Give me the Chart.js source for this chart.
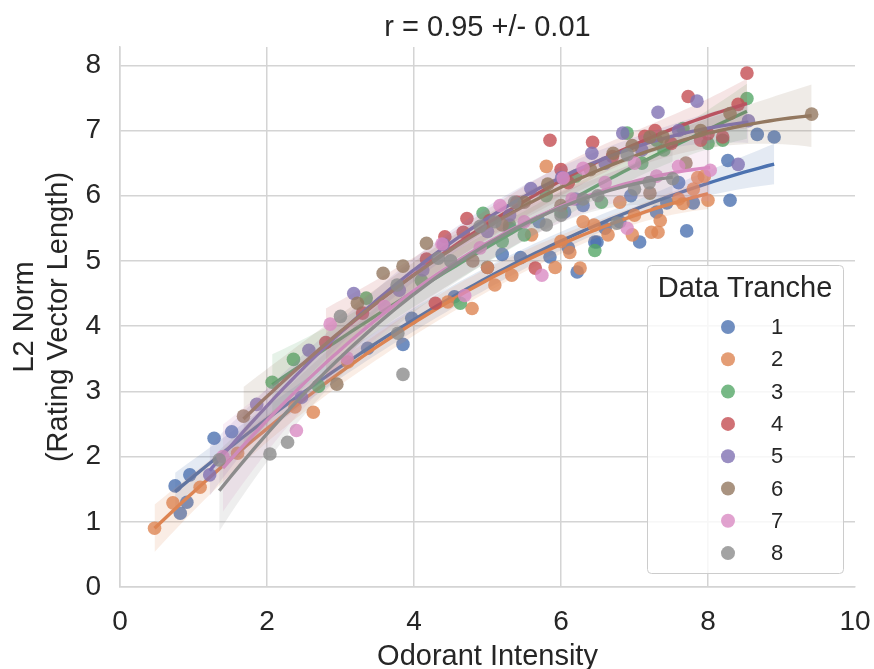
<!DOCTYPE html>
<html>
<head>
<meta charset="utf-8">
<script src="https://cdn.jsdelivr.net/npm/chart.js@4.4.1/dist/chart.umd.min.js"></script>
<style>
  html, body { margin: 0; padding: 0; background: #fff; }
  #wrap { width: 874px; height: 669px; }
</style>
</head>
<body>
<div id="wrap"><canvas id="chart" width="874" height="669"></canvas></div>
<script>
// Tranche names, colours and tick labels
const trancheNames = ['1', '2', '3', '4', '5', '6', '7', '8'];
const trancheColors = ['#4C72B0', '#DD8452', '#55A868', '#C44E52', '#8172B3', '#937860', '#DA8BC3', '#8C8C8C'];
const xTicks = [0, 2, 4, 6, 8, 10];
const yTicks = [0, 1, 2, 3, 4, 5, 6, 7, 8];
const chartTitle = 'r = 0.95 +/- 0.01';

// Points (odorant intensity, L2 norm)
const tranche1X = [0.75, 0.82, 0.91, 0.95, 1.28, 1.52, 3.37, 3.85, 3.97, 4.55, 5.0, 5.2, 5.3, 5.45, 5.7, 5.85, 6.05, 6.1, 6.22, 6.3, 6.46, 6.49, 6.6, 6.8, 6.95, 7.07, 7.3, 7.44, 7.6, 7.71, 7.8, 8.27, 8.3, 8.67, 8.9];
const tranche1Y = [1.55, 1.13, 1.30, 1.72, 2.28, 2.38, 3.66, 3.72, 4.12, 4.45, 4.90, 5.10, 5.50, 5.05, 5.60, 5.06, 5.75, 5.20, 4.83, 5.85, 5.29, 5.29, 5.50, 5.60, 6.00, 5.29, 5.75, 5.89, 6.20, 5.46, 5.89, 6.54, 5.93, 6.94, 6.90];
const tranche2X = [0.47, 0.72, 1.09, 1.6, 2.38, 2.63, 3.1, 4.46, 4.79, 5.0, 5.1, 5.33, 5.6, 5.8, 5.92, 6.0, 6.12, 6.26, 6.3, 6.45, 6.64, 6.8, 6.97, 7.0, 7.23, 7.32, 7.35, 7.6, 7.66, 7.8, 7.86, 7.95, 8.0];
const tranche2Y = [0.90, 1.29, 1.53, 2.05, 2.76, 2.68, 3.45, 4.37, 4.27, 4.90, 4.63, 4.78, 5.40, 6.45, 4.90, 5.30, 5.13, 4.89, 5.60, 5.55, 5.40, 5.90, 5.40, 5.70, 5.44, 5.44, 5.62, 5.95, 5.88, 6.10, 6.28, 6.30, 5.93];
const tranche3X = [2.07, 2.36, 2.7, 3.35, 4.1, 4.63, 4.94, 5.2, 5.3, 5.5, 5.8, 6.0, 6.2, 6.46, 6.55, 6.9, 7.1, 7.3, 7.4, 7.66, 8.0, 8.2, 8.53];
const tranche3Y = [3.14, 3.49, 3.08, 4.43, 4.70, 4.35, 5.73, 5.30, 5.55, 5.40, 6.00, 5.75, 6.30, 5.16, 5.90, 6.96, 6.50, 6.85, 6.70, 7.03, 6.80, 6.85, 7.49];
const tranche4X = [2.8, 3.3, 4.17, 4.29, 4.42, 4.67, 4.72, 5.03, 5.4, 5.65, 5.85, 6.0, 6.1, 6.43, 6.7, 7.14, 7.28, 7.5, 7.73, 7.9, 8.0, 8.2, 8.41, 8.53];
const tranche4Y = [3.75, 4.20, 5.03, 4.35, 5.37, 5.44, 5.65, 5.62, 5.90, 4.89, 6.85, 6.40, 6.20, 6.82, 6.60, 6.91, 7.00, 6.80, 7.52, 6.85, 6.95, 6.90, 7.40, 7.88];
const tranche5X = [1.22, 1.86, 2.47, 2.57, 3.18, 3.8, 4.12, 4.4, 5.0, 5.3, 5.59, 6.01, 6.2, 6.42, 6.6, 6.84, 7.1, 7.32, 7.6, 7.85, 8.41, 8.55];
const tranche5Y = [1.72, 2.80, 2.91, 3.63, 4.50, 4.55, 4.86, 5.25, 5.45, 5.70, 6.11, 6.28, 5.95, 6.65, 6.50, 6.96, 6.70, 7.28, 7.00, 7.45, 6.48, 7.15];
const tranche6X = [1.68, 2.95, 3.23, 3.58, 3.85, 4.17, 4.8, 5.2, 5.5, 5.82, 6.0, 6.4, 6.71, 6.97, 7.21, 7.21, 7.39, 7.7, 7.9, 8.3, 9.41];
const tranche6Y = [2.62, 3.11, 4.35, 4.81, 4.92, 5.27, 5.00, 5.55, 5.90, 6.18, 5.85, 6.40, 6.65, 6.77, 6.90, 6.04, 6.90, 6.50, 7.00, 7.26, 7.25];
const tranche7X = [1.4, 2.4, 2.86, 3.09, 3.6, 4.38, 4.69, 4.9, 5.17, 5.5, 5.74, 6.03, 6.15, 6.3, 6.6, 6.9, 7.0, 7.3, 7.6, 8.03];
const tranche7Y = [2.00, 2.40, 4.03, 3.51, 4.30, 5.26, 4.47, 5.20, 5.85, 5.60, 4.78, 6.27, 5.95, 6.42, 6.20, 5.50, 6.50, 6.30, 6.45, 6.39];
const tranche8X = [1.35, 2.04, 2.28, 3.0, 3.77, 3.78, 3.85, 4.33, 4.5, 4.9, 5.1, 5.37, 5.8, 6.0, 6.3, 6.5, 6.76, 6.9, 7.0, 7.2, 7.52];
const tranche8Y = [1.95, 2.04, 2.22, 4.15, 4.63, 3.89, 3.26, 5.04, 5.00, 5.53, 5.60, 5.90, 5.55, 5.70, 5.95, 6.00, 5.58, 6.63, 6.10, 6.20, 6.26];

const tranchesX = [tranche1X, tranche2X, tranche3X, tranche4X, tranche5X, tranche6X, tranche7X, tranche8X];
const tranchesY = [tranche1Y, tranche2Y, tranche3Y, tranche4Y, tranche5Y, tranche6Y, tranche7Y, tranche8Y];

const FONT = "'Liberation Sans', Arial, sans-serif";
const TEXT = '#262626';
const GRID = '#d4d4d4';

function withAlpha(hex, a) {
    const n = parseInt(hex.slice(1), 16);
    return `rgba(${n >> 16}, ${(n >> 8) & 255}, ${n & 255}, ${a})`;
}

// 3x3 inverse (adjugate)
function invert3(m) {
    const [a, b, c] = m[0], [d, e, f] = m[1], [g, h, i] = m[2];
    const A = e * i - f * h, B = -(d * i - f * g), C = d * h - e * g;
    const det = a * A + b * B + c * C;
    return [
        [A / det, -(b * i - c * h) / det, (b * f - c * e) / det],
        [B / det, (a * i - c * g) / det, -(a * f - c * d) / det],
        [C / det, -(a * h - b * g) / det, (a * e - b * d) / det]
    ];
}

// Second order least squares fit with 95% band, like regplot(order=2)
function quadFit(xs, ys) {
    const S = [[0, 0, 0], [0, 0, 0], [0, 0, 0]], T = [0, 0, 0];
    xs.forEach((x, k) => {
        const v = [1, x, x * x];
        for (let r = 0; r < 3; r++) {
            T[r] += v[r] * ys[k];
            for (let c = 0; c < 3; c++) S[r][c] += v[r] * v[c];
        }
    });
    const inv = invert3(S);
    const beta = inv.map(row => row[0] * T[0] + row[1] * T[1] + row[2] * T[2]);
    let sse = 0;
    xs.forEach((x, k) => {
        const e = ys[k] - (beta[0] + beta[1] * x + beta[2] * x * x);
        sse += e * e;
    });
    const s2 = sse / (xs.length - 3);
    const lo = Math.min(...xs), hi = Math.max(...xs);
    const line = [], upper = [], lower = [];
    for (let s = 0; s <= 80; s++) {
        const x = lo + (hi - lo) * s / 80;
        const v = [1, x, x * x];
        const y = beta[0] + beta[1] * x + beta[2] * x * x;
        let q = 0;
        for (let r = 0; r < 3; r++) for (let c = 0; c < 3; c++) q += v[r] * inv[r][c] * v[c];
        const half = 1.96 * Math.sqrt(s2 * q);
        line.push({ x, y });
        upper.push({ x, y: y + half });
        lower.push({ x, y: y - half });
    }
    return { line, upper, lower };
}

// Build datasets: band, scatter, fit line for each tranche (later tranches on top)
const datasets = [];
tranchesX.forEach((xs, k) => {
    const ys = tranchesY[k];
    const color = trancheColors[k];
    const fit = quadFit(xs, ys);
    const base = (7 - k) * 10;
    datasets.push({
        type: 'line', data: fit.lower, borderWidth: 0, pointRadius: 0,
        fill: false, order: base + 3, tension: 0
    });
    datasets.push({
        type: 'line', data: fit.upper, borderWidth: 0, pointRadius: 0,
        fill: '-1', backgroundColor: withAlpha(color, 0.15), order: base + 2, tension: 0
    });
    datasets.push({
        type: 'scatter', label: trancheNames[k],
        data: xs.map((x, i) => ({ x, y: ys[i] })),
        backgroundColor: withAlpha(color, 0.8), borderWidth: 0,
        pointRadius: 6.8, order: base + 1
    });
    datasets.push({
        type: 'line', data: fit.line, borderColor: color, borderWidth: 3.4,
        pointRadius: 0, fill: false, order: base, tension: 0
    });
});

// Title centred over the plot and legend drawn inside the plot, lower right
const overlay = {
    id: 'overlay',
    afterDraw(chart) {
        const ctx = chart.ctx;
        const area = chart.chartArea;
        ctx.save();
        ctx.fillStyle = TEXT;
        ctx.textAlign = 'center';
        ctx.textBaseline = 'middle';
        ctx.font = `29px ${FONT}`;
        ctx.fillText(chartTitle, (area.left + area.right) / 2, 28);

        const w = 196, h = 308;
        const left = area.right - 12 - w, top = area.bottom - 14 - h;
        ctx.beginPath();
        ctx.roundRect(left + 0.5, top + 0.5, w, h, 4);
        ctx.fillStyle = 'rgba(255,255,255,0.8)';
        ctx.fill();
        ctx.strokeStyle = '#cccccc';
        ctx.lineWidth = 1;
        ctx.stroke();
        ctx.fillStyle = TEXT;
        ctx.font = `29px ${FONT}`;
        ctx.fillText('Data Tranche', left + w / 2, top + 24);
        ctx.font = `22px ${FONT}`;
        trancheNames.forEach((name, k) => {
            const y = top + 62 + k * 32.3;
            ctx.beginPath();
            ctx.arc(left + 81, y, 7, 0, Math.PI * 2);
            ctx.fillStyle = withAlpha(trancheColors[k], 0.8);
            ctx.fill();
            ctx.fillStyle = TEXT;
            ctx.fillText(name, left + 130, y + 1);
        });
        ctx.restore();
    }
};

new Chart(document.getElementById('chart'), {
    type: 'scatter',
    data: { datasets },
    plugins: [overlay],
    options: {
        responsive: false,
        animation: false,
        events: [],
        layout: { padding: { left: 0, right: 19, top: 47, bottom: 0 } },
        plugins: {
            legend: { display: false },
            tooltip: { enabled: false },
            title: { display: false }
        },
        scales: {
            x: {
                type: 'linear', min: 0, max: 10,
                afterBuildTicks: s => { s.ticks = xTicks.map(v => ({ value: v })); },
                afterFit: s => { s.height = 82; s.paddingLeft = 0; s.paddingRight = 0; },
                ticks: { color: TEXT, font: { family: FONT, size: 28 }, padding: 18 },
                grid: {
                    color: c => (c.tick && c.tick.value === 10 ? 'rgba(0,0,0,0)' : GRID),
                    lineWidth: 1.5, drawTicks: false
                },
                border: { color: GRID, width: 1.5 },
                title: {
                    display: true, text: 'Odorant Intensity', color: TEXT,
                    font: { family: FONT, size: 29, lineHeight: 0.8 },
                    padding: { top: 0, bottom: 0 }
                }
            },
            y: {
                type: 'linear', min: 0, max: 8.28,
                afterBuildTicks: s => { s.ticks = yTicks.map(v => ({ value: v })); },
                afterFit: s => { s.width = 120; },
                ticks: { color: TEXT, font: { family: FONT, size: 28 }, padding: 19 },
                grid: { color: GRID, lineWidth: 1.5, drawTicks: false },
                border: { color: GRID, width: 1.5 },
                title: {
                    display: true, text: ['L2 Norm', '(Rating Vector Length)'], color: TEXT,
                    font: { family: FONT, size: 29, lineHeight: 1.15 },
                    padding: { top: 8.5, bottom: 0 }
                }
            }
        }
    }
});
</script>
</body>
</html>
